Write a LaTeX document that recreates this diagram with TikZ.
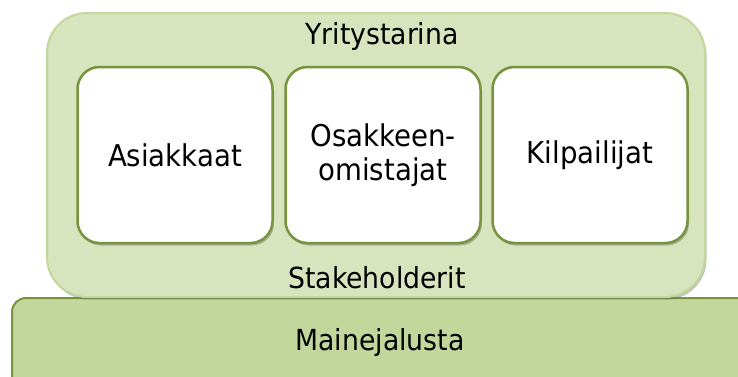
\documentclass[tikz,border=0pt]{standalone}
\usepackage{fontspec}
\setmainfont[FakeStretch=0.92]{DejaVu Sans}
\usetikzlibrary{shadows}
\definecolor{outerfill}{HTML}{D7E4BD}
\definecolor{outerline}{HTML}{C3D69B}
\definecolor{darkgreen}{HTML}{77933C}
\definecolor{basefill}{HTML}{C3D69B}
\newcommand\labelfont{\fontsize{29}{33}\selectfont}
\newcommand\cardfont{\fontsize{30}{34}\selectfont}
\tikzset{
  shadowed/.style={drop shadow={shadow xshift=1.5pt, shadow yshift=-2.5pt, opacity=0.4, fill=black!60}},
  frame/.style={rectangle, rounded corners=40pt, fill=outerfill, draw=outerline, line width=2pt,
    minimum width=658pt, minimum height=284pt, inner sep=0pt, shadowed},
  card/.style={rectangle, rounded corners=22pt, fill=white, draw=darkgreen, line width=2.5pt,
    minimum width=195pt, minimum height=176pt, inner sep=0pt, shadowed, align=center, font=\cardfont},
  basebar/.style={rectangle, rounded corners=14pt, fill=basefill, draw=darkgreen, line width=2pt,
    minimum width=760pt, minimum height=124pt, inner sep=0pt, shadowed},
  caption/.style={anchor=base, inner sep=0pt, font=\labelfont}
}
\begin{document}
\begin{tikzpicture}[x=1pt,y=-1pt]
  \clip (0,0) rectangle (738,376);
  \fill[white] (0,0) rectangle (738,376);
  \node[basebar] (base) at (392,360) {};
  \node[frame] (frame) at (376,155) {};
  \node[card] (c1) at (175,155) {Asiakkaat};
  \node[card] (c2) at (383,155) {Osakkeen-\\omistajat};
  \node[card] (c3) at (590,155) {Kilpailijat};
  \node[caption] (ttop) at (382,44) {Yritystarina};
  \node[caption] (tstake) at (377,288) {Stakeholderit};
  \node[caption] (tbase) at (380,350) {Mainejalusta};
\end{tikzpicture}
\end{document}
